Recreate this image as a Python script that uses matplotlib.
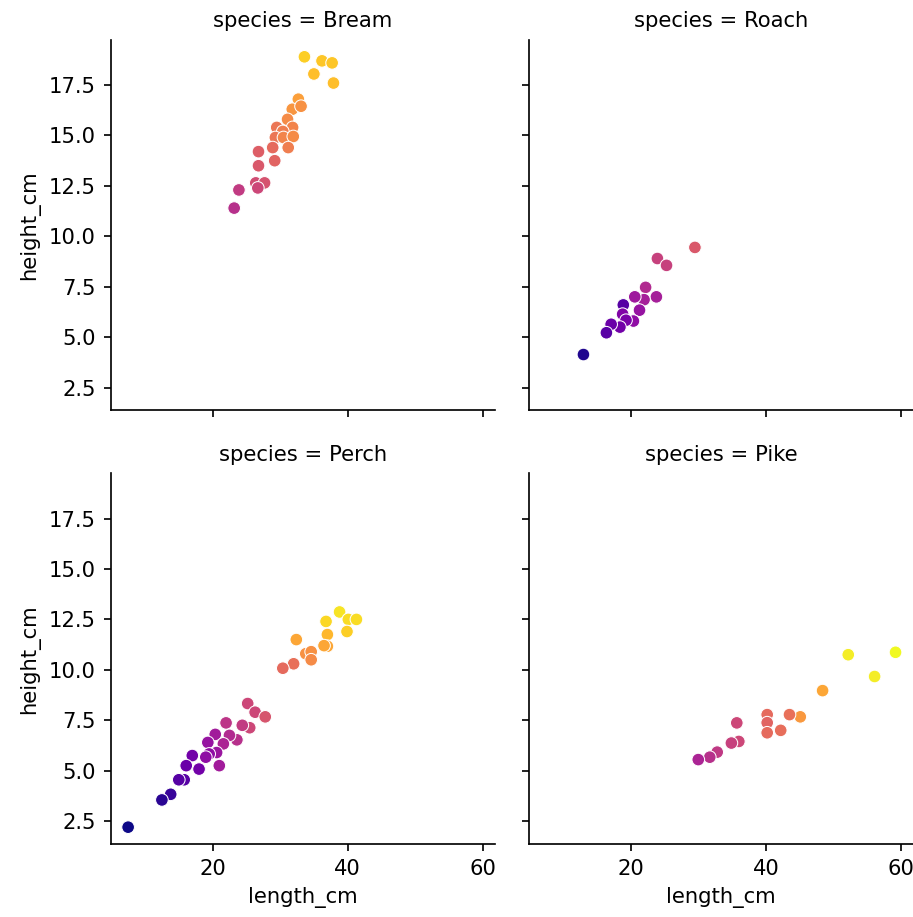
import numpy as np
import pandas as pd
import matplotlib
matplotlib.use("Agg")
import matplotlib.pyplot as plt
import seaborn as sns

# values
species_order = ["Bream", "Roach", "Perch", "Pike"]

bream_length = [33.6, 36.2, 37.7, 35.0, 37.9, 32.7, 31.8, 33.1, 31.1, 29.5, 31.85, 30.4,
                29.3, 30.5, 31.95, 31.2, 28.9, 26.8, 29.2, 26.8, 26.4, 27.7, 26.7, 23.9, 23.2]
bream_height = [18.9, 18.7, 18.6, 18.05, 17.6, 16.8, 16.3, 16.45, 15.8, 15.4, 15.4, 15.2,
                14.9, 14.9, 14.95, 14.4, 14.4, 14.2, 13.75, 13.5, 12.65, 12.65, 12.4, 12.3, 11.4]
bream_shade = [0.9, 0.88, 0.88, 0.86, 0.86, 0.78, 0.75, 0.74, 0.72, 0.66, 0.7, 0.68,
               0.66, 0.7, 0.72, 0.68, 0.62, 0.58, 0.6, 0.56, 0.52, 0.54, 0.5, 0.46, 0.42]

roach_length = [29.5, 23.95, 25.3, 22.2, 23.8, 21.97, 20.6, 18.9, 21.3, 18.8, 20.4, 19.3,
                18.4, 17.1, 16.4, 13.0]
roach_height = [9.45, 8.9, 8.56, 7.47, 7.0, 6.86, 7.0, 6.6, 6.34, 6.14, 5.8, 5.84,
                5.5, 5.64, 5.22, 4.14]
roach_shade = [0.56, 0.48, 0.48, 0.4, 0.36, 0.36, 0.34, 0.15, 0.32, 0.26, 0.3, 0.24,
               0.22, 0.2, 0.16, 0.03]

perch_length = [32.4, 33.8, 32.0, 30.4, 25.2, 26.3, 27.8, 25.5, 24.4, 22.0, 23.6, 22.5,
                20.4, 21.6, 20.6, 19.3, 19.5, 19.0, 17.0, 21.0, 18.0, 16.1, 15.8, 15.0,
                13.8, 12.5, 7.5, 38.8, 36.8, 40.1, 41.3, 39.9, 37.0, 37.0, 36.5, 34.6, 34.6]
perch_height = [11.5, 10.8, 10.3, 10.08, 8.33, 7.9, 7.67, 7.13, 7.25, 7.37, 6.53, 6.75,
                6.8, 6.33, 5.9, 6.4, 5.83, 5.67, 5.75, 5.25, 5.08, 5.25, 4.55, 4.55,
                3.83, 3.55, 2.2, 12.87, 12.4, 12.5, 12.5, 11.9, 11.75, 11.17, 11.2, 10.9, 10.5]
perch_shade = [0.8, 0.74, 0.64, 0.62, 0.5, 0.5, 0.55, 0.5, 0.46, 0.44, 0.42, 0.4,
               0.35, 0.38, 0.33, 0.32, 0.3, 0.3, 0.22, 0.35, 0.22, 0.2, 0.15, 0.15,
               0.08, 0.05, 0.0, 0.95, 0.92, 0.93, 0.93, 0.9, 0.84, 0.8, 0.8, 0.74, 0.72]

pike_length = [59.2, 52.2, 56.1, 48.4, 45.1, 43.5, 40.2, 40.2, 40.2, 42.2, 35.7, 36.0,
               34.9, 32.8, 31.7, 30.0]
pike_height = [10.87, 10.75, 9.67, 8.97, 7.67, 7.78, 7.78, 7.38, 6.88, 7.0, 7.37, 6.45,
               6.37, 5.92, 5.67, 5.55]
pike_shade = [1.0, 0.97, 0.97, 0.8, 0.76, 0.64, 0.62, 0.6, 0.62, 0.63, 0.5, 0.5,
              0.48, 0.45, 0.42, 0.38]

frames = []
for name, ln, ht, sh in [("Bream", bream_length, bream_height, bream_shade),
                         ("Roach", roach_length, roach_height, roach_shade),
                         ("Perch", perch_length, perch_height, perch_shade),
                         ("Pike", pike_length, pike_height, pike_shade)]:
    frames.append(pd.DataFrame({"species": name, "length_cm": ln,
                                "height_cm": ht, "shade": sh}))
fish = pd.concat(frames, ignore_index=True)

g = sns.FacetGrid(fish, col="species", col_wrap=2, col_order=species_order, height=3)
g.map_dataframe(sns.scatterplot, x="length_cm", y="height_cm", hue="shade",
                palette="plasma", hue_norm=(0, 1), legend=False)
g.set(xticks=[20, 40, 60])

fig = g.figure
fig.set_size_inches(913 / 152, 917 / 152)
fig.subplots_adjust(left=0.1212, right=1.0, bottom=0.0796, top=0.9564,
                    wspace=0.0885, hspace=0.17)

fig.savefig("out.png", dpi=152)
